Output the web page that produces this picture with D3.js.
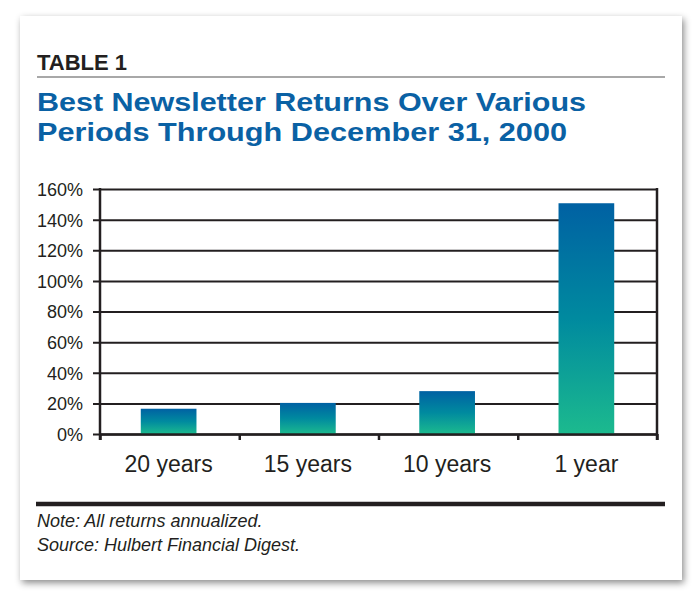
<!DOCTYPE html>
<html>
<head>
<meta charset="utf-8">
<script src="https://cdn.jsdelivr.net/npm/d3@7"></script>
<style>
html,body{margin:0;padding:0;background:#fff;}
svg{display:block;}
</style>
</head>
<body>
<svg id="chart" width="700" height="601"></svg>
<script>
// ---- data ----
const categories = ["20 years", "15 years", "10 years", "1 year"];
const returnsPct = [16.5, 20.3, 28, 150.7];
const yTicks = [0, 20, 40, 60, 80, 100, 120, 140, 160];
const titleLines = ["Best Newsletter Returns Over Various", "Periods Through December 31, 2000"];
const notes = ["Note: All returns annualized.", "Source: Hulbert Financial Digest."];

(function () {
const svg = d3.select("#chart");
const FONT = "'Liberation Sans', Arial, Helvetica, sans-serif";

const defs = svg.append("defs");
const f = defs.append("filter").attr("id", "shadow").attr("x", "-5%").attr("y", "-5%").attr("width", "110%").attr("height", "110%");
f.append("feDropShadow").attr("dx", 2).attr("dy", 3).attr("stdDeviation", 3.5).attr("flood-color", "#000").attr("flood-opacity", 0.45);

const grad = defs.append("linearGradient").attr("id", "barGrad").attr("x1", 0).attr("y1", 0).attr("x2", 0).attr("y2", 1);
grad.append("stop").attr("offset", "0%").attr("stop-color", "#0061a3");
grad.append("stop").attr("offset", "50%").attr("stop-color", "#008a9f");
grad.append("stop").attr("offset", "100%").attr("stop-color", "#1cba8e");

// card
svg.append("rect").attr("x", 20).attr("y", 16).attr("width", 662).attr("height", 564)
  .attr("fill", "#fff").attr("filter", "url(#shadow)");

// header
svg.append("text").attr("x", 37).attr("y", 70).attr("font-family", FONT).attr("font-weight", "bold")
  .attr("font-size", 22).attr("fill", "#231f20").text("TABLE 1");
svg.append("line").attr("x1", 37).attr("x2", 665).attr("y1", 77).attr("y2", 77)
  .attr("stroke", "#a8a8a8").attr("stroke-width", 2);

const titleWidths = [549, 530];
svg.selectAll("text.title").data(titleLines).join("text").attr("class", "title")
  .attr("x", 37).attr("y", (d, i) => 110.5 + i * 30)
  .attr("font-family", FONT).attr("font-weight", "bold").attr("font-size", 26.5)
  .attr("fill", "#0a61a4")
  .attr("textLength", (d, i) => titleWidths[i]).attr("lengthAdjust", "spacingAndGlyphs")
  .text(d => d);

// chart
const pl = 100, pr = 657, pt = 189, pb = 434;
const x = d3.scaleBand().domain(categories).range([pl, pr]).paddingInner(0.6).paddingOuter(0.3);
const xEdges = d3.scaleLinear().domain([0, categories.length]).range([pl, pr]);
const y = d3.scaleLinear().domain([0, 160]).range([pb, pt]);
const ink = "#231f20";

// gridlines + y ticks
const yAxis = svg.append("g").attr("transform", `translate(${pl},0)`)
  .call(d3.axisLeft(y).tickValues(yTicks).tickFormat(d => d + "%").tickSize(7).tickPadding(10));
yAxis.select(".domain").remove();
yAxis.selectAll(".tick line").attr("x1", -7).attr("x2", pr - pl).attr("stroke", ink).attr("stroke-width", 2);
yAxis.selectAll(".tick text").attr("font-family", FONT).attr("font-size", 18).attr("fill", ink)
  .attr("x", -17).attr("dy", "0.36em");

// bars
svg.selectAll("rect.bar").data(returnsPct).join("rect").attr("class", "bar")
  .attr("x", (d, i) => x(categories[i]) - 1)
  .attr("width", x.bandwidth())
  .attr("y", d => y(d))
  .attr("height", d => y(0) - y(d))
  .attr("fill", "url(#barGrad)");

// frame: left axis, right border
svg.append("line").attr("x1", pl).attr("x2", pl).attr("y1", pt - 1).attr("y2", pb + 6)
  .attr("stroke", ink).attr("stroke-width", 2.5);
svg.append("line").attr("x1", pr).attr("x2", pr).attr("y1", pt - 1).attr("y2", pb + 6)
  .attr("stroke", ink).attr("stroke-width", 2.5);

// x axis with edge ticks
const xAxis = svg.append("g").attr("transform", `translate(0,${pb})`)
  .call(d3.axisBottom(xEdges).tickValues(d3.range(categories.length + 1)).tickFormat("").tickSize(6).tickSizeOuter(0));
xAxis.select(".domain").attr("stroke", ink).attr("stroke-width", 2.5);
xAxis.selectAll(".tick line").attr("stroke", ink).attr("stroke-width", 2.5);

const xLabels = svg.append("g").attr("transform", `translate(0,${pb})`)
  .call(d3.axisBottom(x).tickSize(0).tickPadding(0));
xLabels.select(".domain").remove();
xLabels.selectAll(".tick text").attr("font-family", FONT).attr("font-size", 23).attr("fill", ink)
  .attr("x", -1).attr("y", 38).attr("dy", 0);

// bottom rule + notes
svg.append("line").attr("x1", 36).attr("x2", 665).attr("y1", 504).attr("y2", 504)
  .attr("stroke", ink).attr("stroke-width", 4.5);
svg.selectAll("text.note").data(notes).join("text").attr("class", "note")
  .attr("x", 37).attr("y", (d, i) => 527 + i * 24)
  .attr("font-family", FONT).attr("font-style", "italic").attr("font-size", 18).attr("fill", ink)
  .text(d => d);
})();
</script>
</body>
</html>
